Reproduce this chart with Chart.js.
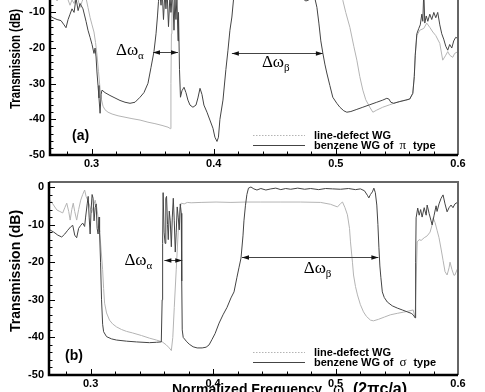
<!DOCTYPE html>
<html lang="en">
<head>
<meta charset="UTF-8" />
<title>Transmission spectra - line-defect vs benzene WG</title>
<script src="https://cdn.jsdelivr.net/npm/chart.js"></script>
<style>
  html, body { margin: 0; padding: 0; background: #fff; }
  body { width: 485px; height: 392px; overflow: hidden; position: relative; }
  canvas { position: absolute; left: 0; }
  #panelA { top: -40px; }
  #panelB { top: 170px; }
</style>
</head>
<body>
<canvas id="panelA" width="485" height="210"></canvas>
<canvas id="panelB" width="485" height="240"></canvas>

<script>
// frequency in units of 2*pi*c/a, transmission in dB
const freqTicks = [0.3, 0.4, 0.5, 0.6];
const dbTicks = [-50, -40, -30, -20, -10, 0];

// (a) benzene WG of pi type
const aBenzFreq = [0.2661,0.2685,0.2718,0.2750,0.2775,0.2791,0.2808,0.2824,0.2840,0.2857,
  0.2873,0.2890,0.2906,0.2930,0.2955,0.2971,0.2988,0.3004,0.3020,0.3029,
  0.3037,0.3045,0.3053,0.3061,0.3070,0.3078,0.3086,0.3110,0.3151,0.3192,
  0.3233,0.3274,0.3315,0.3356,0.3397,0.3429,0.3462,0.3487,0.3511,0.3528,
  0.3540,0.3548,0.3556,0.3569,0.3577,0.3589,0.3601,0.3609,0.3618,0.3630,
  0.3642,0.3650,0.3663,0.3675,0.3683,0.3691,0.3699,0.3708,0.3712,0.3720,
  0.3728,0.3740,0.3757,0.3773,0.3789,0.3806,0.3830,0.3855,0.3871,0.3888,
  0.3904,0.3920,0.3945,0.3969,0.3994,0.4010,0.4027,0.4039,0.4051,0.4076,
  0.4100,0.4117,0.4133,0.4149,0.4162,0.4174,0.4198,0.4256,0.4337,0.4419,
  0.4501,0.4583,0.4648,0.4689,0.4722,0.4755,0.4779,0.4804,0.4828,0.4845,
  0.4861,0.4877,0.4894,0.4910,0.4926,0.4951,0.4975,0.5008,0.5033,0.5065,
  0.5090,0.5123,0.5172,0.5221,0.5278,0.5335,0.5384,0.5417,0.5434,0.5450,
  0.5474,0.5524,0.5573,0.5605,0.5630,0.5642,0.5650,0.5663,0.5679,0.5691,
  0.5704,0.5712,0.5720,0.5728,0.5740,0.5753,0.5769,0.5785,0.5802,0.5818,
  0.5834,0.5851,0.5867,0.5883,0.5900,0.5916,0.5932,0.5949,0.5965,0.5981,
  0.6000];
const aBenzDb = [-11.0,-11.5,-12.0,-12.3,-13.5,-14.3,-12.0,-10.5,-9.0,-10.0,
  -6.0,-9.5,-7.5,-9.0,-12.5,-15.0,-17.0,-19.0,-21.5,-20.0,
  -22.5,-27.0,-30.5,-34.0,-38.3,-33.0,-31.8,-32.5,-33.3,-34.0,
  -34.7,-35.2,-35.5,-35.2,-33.8,-32.5,-29.9,-25.4,-21.0,-16.0,
  -11.0,-7.0,-3.5,-8.0,-3.0,-12.0,-4.0,-9.0,-3.5,-14.0,
  -5.0,-10.0,-4.0,-15.0,-6.0,-12.0,-6.0,-18.0,-10.0,-26.0,
  -33.8,-32.0,-31.0,-32.5,-34.6,-36.0,-36.6,-36.0,-34.0,-31.3,
  -33.0,-36.0,-38.0,-40.2,-42.5,-45.0,-46.2,-45.0,-40.0,-34.6,
  -26.0,-20.6,-15.0,-11.3,-6.5,-3.5,-2.0,-1.5,-1.2,-1.5,
  -1.3,-2.0,-3.5,-5.0,-6.0,-6.8,-6.5,-5.5,-6.0,-8.6,
  -13.0,-18.0,-21.5,-24.5,-27.0,-30.5,-33.8,-35.5,-36.6,-37.6,
  -38.0,-37.8,-37.2,-36.6,-35.9,-35.2,-34.6,-34.1,-34.3,-35.2,
  -35.5,-35.0,-34.6,-34.3,-32.7,-28.0,-22.0,-16.0,-14.5,-13.5,
  -10.5,-12.5,-4.0,-13.0,-11.0,-12.5,-10.5,-12.0,-10.0,-11.5,
  -10.0,-13.5,-16.0,-17.5,-19.5,-20.6,-19.0,-20.0,-18.0,-17.0,
  -17.3];

// (a) line-defect WG
const aLineFreq = [0.2661,0.2693,0.2718,0.2742,0.2767,0.2791,0.2808,0.2824,0.2840,0.2857,
  0.2873,0.2890,0.2906,0.2922,0.2939,0.2955,0.2971,0.2988,0.3004,0.3020,
  0.3033,0.3045,0.3057,0.3070,0.3082,0.3094,0.3110,0.3135,0.3168,0.3217,
  0.3274,0.3331,0.3397,0.3462,0.3519,0.3577,0.3626,0.3646,0.3650,0.3654,
  0.3658,0.3667,0.3724,0.3806,0.3969,0.4133,0.4378,0.4624,0.4869,0.4992,
  0.5033,0.5057,0.5081,0.5115,0.5147,0.5172,0.5196,0.5221,0.5245,0.5278,
  0.5303,0.5335,0.5384,0.5442,0.5491,0.5548,0.5605,0.5630,0.5642,0.5650,
  0.5663,0.5687,0.5720,0.5744,0.5769,0.5794,0.5818,0.5851,0.5875,0.5900,
  0.5916,0.5932,0.5957,0.5973,0.6000];
const aLineDb = [-5.0,-5.5,-6.8,-5.0,-6.0,-4.5,-6.5,-8.0,-6.5,-7.5,
  -5.5,-6.5,-8.6,-7.0,-5.5,-6.0,-8.6,-11.4,-13.5,-15.5,
  -18.5,-22.0,-26.5,-31.5,-34.5,-36.3,-37.3,-38.0,-38.5,-39.0,
  -39.4,-39.8,-40.2,-40.8,-41.2,-41.7,-42.2,-42.6,-30.0,-16.0,
  -6.0,-3.0,-2.5,-2.8,-2.5,-2.8,-2.6,-2.7,-3.0,-4.0,
  -5.5,-6.6,-10.0,-14.2,-19.5,-23.4,-28.0,-31.8,-34.5,-36.6,
  -38.0,-37.4,-36.6,-35.9,-35.3,-34.8,-34.3,-32.7,-28.0,-22.0,
  -16.5,-15.0,-14.5,-13.0,-14.2,-15.5,-16.5,-18.7,-23.4,-22.0,
  -21.0,-22.0,-22.6,-21.5,-21.0];

// (b) benzene WG of sigma type
const bBenzFreq = [0.2667,0.2699,0.2732,0.2764,0.2789,0.2813,0.2837,0.2854,0.2870,0.2886,
  0.2902,0.2919,0.2935,0.2951,0.2959,0.2972,0.2980,0.2988,0.2996,0.3004,
  0.3012,0.3020,0.3028,0.3037,0.3045,0.3053,0.3061,0.3069,0.3073,0.3081,
  0.3089,0.3098,0.3106,0.3130,0.3171,0.3211,0.3293,0.3374,0.3480,0.3537,
  0.3577,0.3584,0.3588,0.3592,0.3600,0.3608,0.3614,0.3620,0.3628,0.3634,
  0.3642,0.3650,0.3659,0.3667,0.3675,0.3683,0.3691,0.3699,0.3707,0.3715,
  0.3724,0.3732,0.3740,0.3744,0.3748,0.3756,0.3781,0.3805,0.3837,0.3870,
  0.3911,0.3943,0.3967,0.3992,0.4016,0.4049,0.4081,0.4114,0.4146,0.4171,
  0.4195,0.4211,0.4228,0.4244,0.4252,0.4264,0.4276,0.4289,0.4309,0.4333,
  0.4358,0.4390,0.4431,0.4472,0.4512,0.4553,0.4593,0.4634,0.4691,0.4748,
  0.4797,0.4862,0.4919,0.4976,0.5041,0.5106,0.5163,0.5203,0.5236,0.5260,
  0.5272,0.5285,0.5301,0.5313,0.5325,0.5337,0.5346,0.5354,0.5362,0.5370,
  0.5382,0.5398,0.5423,0.5463,0.5504,0.5545,0.5585,0.5618,0.5634,0.5650,
  0.5654,0.5658,0.5671,0.5683,0.5695,0.5707,0.5724,0.5740,0.5748,0.5764,
  0.5780,0.5789,0.5805,0.5821,0.5829,0.5845,0.5862,0.5878,0.5894,0.5911,
  0.5927,0.5943,0.5959,0.5975,0.6000];
const bBenzDb = [-11.4,-12.0,-12.8,-13.3,-12.5,-11.5,-10.6,-10.2,-12.8,-13.5,
  -11.0,-10.2,-9.6,-10.5,-8.0,-4.5,-2.5,-8.0,-12.5,-6.0,
  -2.0,-3.0,-9.0,-5.5,-4.5,-11.0,-12.5,-8.0,-12.0,-20.0,
  -30.0,-36.5,-38.5,-39.8,-40.4,-40.7,-41.0,-41.2,-41.4,-41.3,
  -41.2,-30.0,-15.0,-1.5,-12.0,-15.0,-3.0,-2.5,-10.0,-14.0,
  -6.4,-9.0,-15.9,-8.0,-3.0,-9.0,-17.3,-12.0,-5.3,-8.0,
  -11.4,-4.5,-7.0,-25.0,-38.0,-40.0,-41.0,-41.8,-42.5,-42.8,
  -42.8,-42.6,-42.0,-40.5,-39.0,-36.2,-34.0,-32.0,-29.5,-27.9,
  -24.0,-21.5,-18.9,-13.0,-9.0,-5.0,-2.0,-0.3,0.0,-0.5,
  -0.8,-0.4,-0.8,-0.5,-0.3,-0.7,-0.4,-0.6,-0.3,-0.6,
  -0.4,-0.7,-0.4,-0.5,-0.6,-0.4,-0.7,-0.5,-1.0,-2.2,
  -2.9,-2.0,-1.3,-0.3,-1.5,-4.8,-10.0,-16.0,-21.0,-24.0,
  -27.9,-29.4,-30.6,-31.6,-32.2,-32.7,-33.2,-33.6,-34.0,-34.8,
  -20.0,-8.2,-5.6,-7.5,-6.0,-8.0,-5.5,-7.5,-4.8,-7.0,
  -9.0,-10.1,-7.5,-5.0,-6.5,-4.5,-3.0,-2.1,-4.5,-6.6,
  -5.5,-4.8,-5.5,-4.5,-4.0];

// (b) line-defect WG
const bLineFreq = [0.2667,0.2691,0.2724,0.2748,0.2772,0.2789,0.2805,0.2821,0.2833,0.2846,
  0.2858,0.2870,0.2886,0.2902,0.2919,0.2935,0.2951,0.2963,0.2976,0.2992,
  0.3008,0.3024,0.3037,0.3049,0.3061,0.3073,0.3085,0.3098,0.3106,0.3114,
  0.3130,0.3154,0.3179,0.3211,0.3252,0.3293,0.3341,0.3415,0.3480,0.3537,
  0.3585,0.3618,0.3642,0.3659,0.3671,0.3683,0.3699,0.3715,0.3728,0.3740,
  0.3764,0.3789,0.3821,0.3902,0.4024,0.4146,0.4268,0.4390,0.4553,0.4715,
  0.4878,0.4959,0.5016,0.5041,0.5057,0.5077,0.5097,0.5114,0.5122,0.5138,
  0.5147,0.5163,0.5179,0.5203,0.5228,0.5252,0.5285,0.5309,0.5350,0.5398,
  0.5447,0.5504,0.5553,0.5594,0.5634,0.5650,0.5658,0.5667,0.5683,0.5699,
  0.5724,0.5748,0.5772,0.5789,0.5797,0.5813,0.5829,0.5845,0.5862,0.5878,
  0.5894,0.5911,0.5927,0.5935,0.5951,0.5967,0.5975,0.5992,0.6000];
const bLineDb = [-3.5,-4.5,-6.1,-6.5,-6.9,-5.5,-4.3,-6.5,-8.8,-6.0,
  -4.3,-6.5,-8.8,-6.0,-3.5,-2.0,-0.8,-2.5,-3.5,-5.0,
  -6.9,-5.0,-3.5,-5.3,-8.0,-11.4,-16.5,-22.0,-27.0,-30.9,
  -33.5,-35.4,-36.4,-37.2,-37.9,-38.4,-38.8,-39.5,-40.2,-40.7,
  -41.2,-42.0,-42.8,-43.5,-40.0,-32.0,-22.0,-12.0,-6.0,-4.3,
  -4.5,-4.1,-4.2,-4.1,-4.0,-4.1,-4.0,-4.0,-4.0,-4.0,
  -4.1,-4.6,-5.3,-4.4,-4.0,-5.5,-7.4,-11.0,-14.6,-20.0,
  -23.4,-26.5,-28.7,-31.3,-33.2,-34.4,-35.4,-35.6,-35.2,-34.6,
  -34.0,-33.6,-33.3,-33.0,-32.7,-34.8,-25.0,-14.6,-14.0,-14.2,
  -13.5,-13.0,-12.0,-10.0,-8.2,-9.5,-11.5,-13.5,-16.5,-19.5,
  -22.5,-23.4,-21.5,-20.0,-22.0,-23.5,-23.4,-22.0,-21.5];

const SANS = '"Liberation Sans", Arial, sans-serif';
const SERIF = '"Liberation Serif", "Times New Roman", serif';
const DARK = '#444444';
const LIGHT = '#b4b4b4';

function points(fs, ds) {
  return fs.map((f, i) => ({ x: f, y: ds[i] }));
}

function arrow(ctx, x1, x2, y) {
  ctx.beginPath(); ctx.moveTo(x1, y); ctx.lineTo(x2, y); ctx.stroke();
  [[x1, 1], [x2, -1]].forEach(([x, d]) => {
    ctx.beginPath();
    ctx.moveTo(x, y);
    ctx.lineTo(x + d * 7, y - 2.2);
    ctx.lineTo(x + d * 7, y + 2.2);
    ctx.closePath();
    ctx.fill();
  });
}

function deltaOmega(ctx, x, y, sub) {
  ctx.textAlign = 'left';
  ctx.textBaseline = 'alphabetic';
  ctx.font = '17px ' + SERIF;
  ctx.fillText('Δω', x, y);
  const w = ctx.measureText('Δω').width;
  ctx.font = '11px ' + SERIF;
  ctx.fillText(sub, x + w, y + 4);
}

// ticks, frame, titles, legend and band markers
function decor(cfg) {
  return {
    id: 'decor',
    afterDatasetsDraw(chart) {
      const { ctx, chartArea: a, scales: { x, y } } = chart;
      ctx.save();

      ctx.strokeStyle = '#000';
      ctx.lineWidth = 1;
      ctx.beginPath();
      for (let k = 14; k <= 30; k++) {
        const px = Math.round(x.getPixelForValue(k * 0.02)) + 0.5;
        ctx.moveTo(px, a.bottom);
        ctx.lineTo(px, a.bottom - (k % 5 === 0 ? 6 : 3.5));
      }
      for (let v = -50; v <= y.max; v += 2) {
        const py = Math.round(y.getPixelForValue(v)) + 0.5;
        ctx.moveTo(a.left, py);
        ctx.lineTo(a.left + (v % 10 === 0 ? 6 : 3.5), py);
      }
      ctx.stroke();

      ctx.lineWidth = 2;
      ctx.strokeStyle = '#666';
      ctx.beginPath();
      ctx.moveTo(a.left, a.top); ctx.lineTo(a.right, a.top); ctx.lineTo(a.right, a.bottom);
      ctx.stroke();
      ctx.lineWidth = 2.5;
      ctx.strokeStyle = '#000';
      ctx.beginPath();
      ctx.moveTo(a.left, a.top); ctx.lineTo(a.left, a.bottom); ctx.lineTo(a.right, a.bottom);
      ctx.stroke();

      // y title
      ctx.fillStyle = '#000';
      ctx.save();
      ctx.translate(16, a.bottom - cfg.yTitleUp);
      ctx.rotate(-Math.PI / 2);
      ctx.font = 'bold 14px ' + SANS;
      ctx.textAlign = 'center';
      ctx.textBaseline = 'middle';
      ctx.fillText('Transmission (dB)', 0, 0, cfg.yTitleLen);
      ctx.restore();

      // panel tag
      ctx.font = 'bold 14px ' + SANS;
      ctx.textAlign = 'left';
      ctx.textBaseline = 'alphabetic';
      ctx.fillText(cfg.tag, a.left + cfg.tagDx, a.bottom - 15);

      // legend
      const ly1 = a.bottom - cfg.legendUp, ly2 = ly1 + 10;
      ctx.lineWidth = 1;
      ctx.strokeStyle = LIGHT;
      ctx.setLineDash([1.5, 1.5]);
      ctx.beginPath(); ctx.moveTo(253, ly1 + 0.5); ctx.lineTo(305, ly1 + 0.5); ctx.stroke();
      ctx.setLineDash([]);
      ctx.strokeStyle = DARK;
      ctx.beginPath(); ctx.moveTo(253, ly2 + 0.5); ctx.lineTo(305, ly2 + 0.5); ctx.stroke();
      ctx.textBaseline = 'middle';
      ctx.font = 'bold 11px ' + SANS;
      ctx.fillText('line-defect WG', 314, ly1 + 1);
      let tx = 314;
      ctx.fillText('benzene WG of', tx, ly2 + 1);
      tx += ctx.measureText('benzene WG of').width + 6;
      ctx.font = '13px ' + SERIF;
      ctx.fillText(cfg.sym, tx, ly2 + 1);
      tx += ctx.measureText(cfg.sym).width + 7;
      ctx.font = 'bold 11px ' + SANS;
      ctx.fillText('type', tx, ly2 + 1);

      // band widths
      ctx.strokeStyle = DARK;
      ctx.fillStyle = '#111';
      ctx.lineWidth = 1;
      cfg.arrows.forEach(r => {
        arrow(ctx, x.getPixelForValue(r.from), x.getPixelForValue(r.to), Math.round(y.getPixelForValue(r.at)) + 0.5);
      });
      ctx.fillStyle = '#000';
      cfg.marks.forEach(m => deltaOmega(ctx, x.getPixelForValue(m.f), y.getPixelForValue(m.db), m.sub));

      if (cfg.xTitle) {
        ctx.textBaseline = 'alphabetic';
        ctx.textAlign = 'left';
        ctx.font = 'bold 14px ' + SANS;
        ctx.fillText('Normalized Frequency', 172, a.bottom + 19);
        ctx.font = '17px ' + SERIF;
        ctx.fillText('ω', 333, a.bottom + 19);
        ctx.font = 'bold 16px ' + SANS;
        ctx.fillText('(2πc/a)', 353, a.bottom + 19);
      }
      ctx.restore();
    }
  };
}

function makeChart(id, benz, line, xAxisHeight, cfg) {
  const tickFont = { family: SANS, size: 11, weight: 'bold' };
  return new Chart(document.getElementById(id), {
    type: 'line',
    data: {
      datasets: [
        { label: 'benzene WG', data: benz, borderColor: DARK, borderWidth: 1, pointRadius: 0, tension: 0 },
        { label: 'line-defect WG', data: line, borderColor: LIGHT, borderWidth: 1, pointRadius: 0, tension: 0 }
      ]
    },
    options: {
      responsive: false,
      animation: false,
      events: [],
      layout: { padding: { left: 0, right: 27, top: 12, bottom: 0 } },
      plugins: { legend: { display: false }, tooltip: { enabled: false } },
      scales: {
        x: {
          type: 'linear', min: 0.266, max: 0.6,
          afterBuildTicks: s => { s.ticks = freqTicks.map(v => ({ value: v })); },
          afterFit: s => { s.height = xAxisHeight; },
          ticks: { font: tickFont, color: '#000', padding: 2, maxRotation: 0, callback: v => v.toFixed(1) },
          grid: { display: false, drawTicks: false },
          border: { display: false }
        },
        y: {
          type: 'linear', min: -50, max: 1.33,
          afterBuildTicks: s => { s.ticks = dbTicks.map(v => ({ value: v })); },
          afterFit: s => { s.width = cfg.yAxisWidth; },
          ticks: { font: tickFont, color: '#000', padding: 5, callback: v => String(v) },
          grid: { display: false, drawTicks: false },
          border: { display: false }
        }
      }
    },
    plugins: [decor(cfg)]
  });
}

makeChart('panelA', points(aBenzFreq, aBenzDb), points(aLineFreq, aLineDb), 15, {
  yAxisWidth: 50, yTitleUp: 96, yTitleLen: 100, tag: '(a)', tagDx: 22, legendUp: 20, sym: 'π', xTitle: false,
  arrows: [{ from: 0.3503, to: 0.3708, at: -21.2 }, { from: 0.4149, to: 0.4894, at: -21.5 }],
  marks: [{ f: 0.3200, db: -22.0, sub: 'α' }, { f: 0.4395, db: -25.4, sub: 'β' }]
});

makeChart('panelB', points(bBenzFreq, bBenzDb), points(bLineFreq, bLineDb), 35, {
  yAxisWidth: 49, yTitleUp: 104, yTitleLen: 128, tag: '(b)', tagDx: 16, legendUp: 23, sym: 'σ', xTitle: true,
  arrows: [{ from: 0.3602, to: 0.3748, at: -19.4 }, { from: 0.4236, to: 0.5350, at: -18.6 }],
  marks: [{ f: 0.3276, db: -20.7, sub: 'α' }, { f: 0.4740, db: -22.9, sub: 'β' }]
});
</script>
</body>
</html>
